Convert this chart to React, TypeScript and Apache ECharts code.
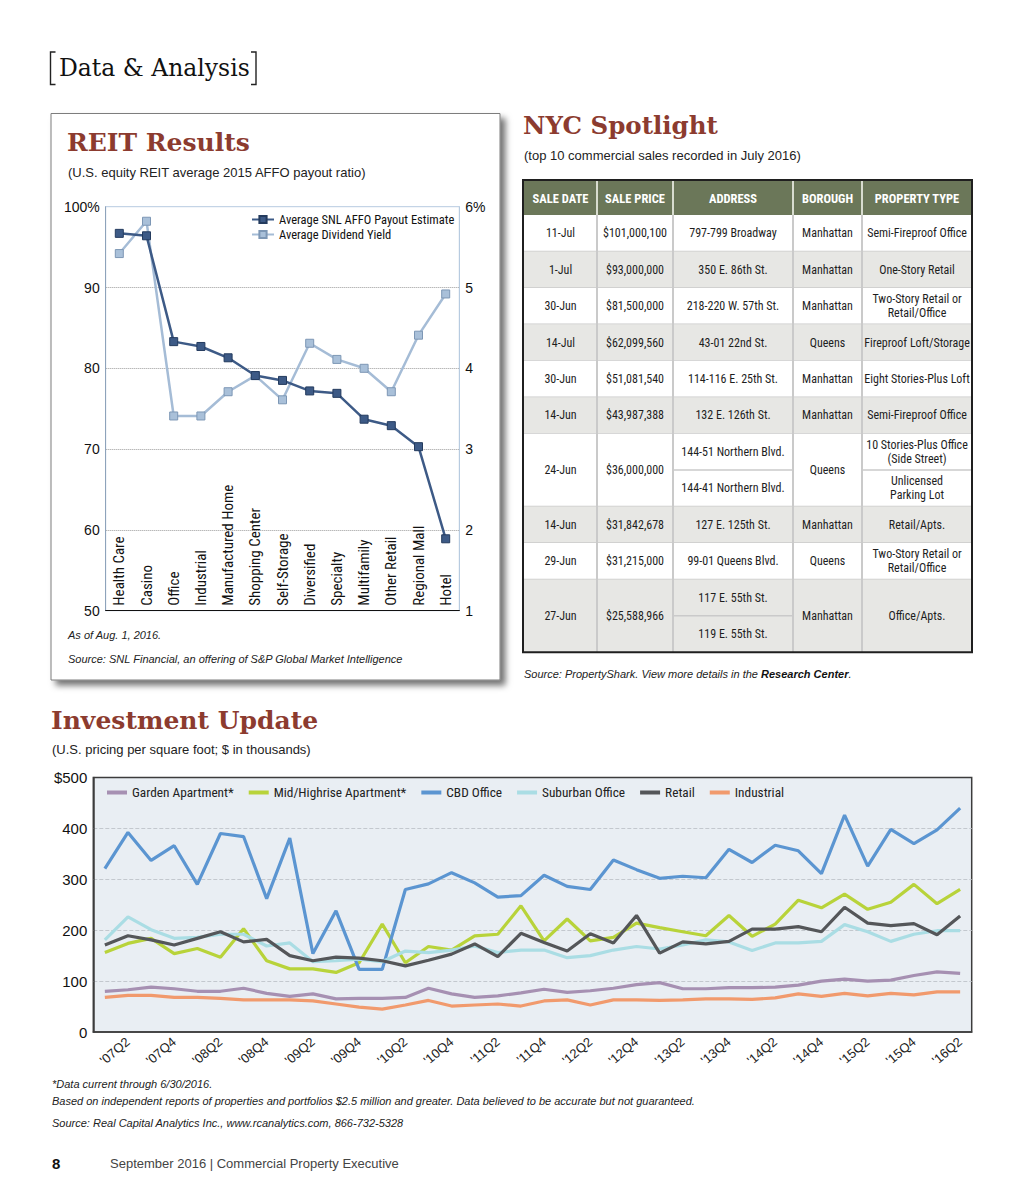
import React, { useEffect, useRef } from "react";
import * as echarts from "echarts";

const NARROW = "'Liberation Sans Narrow', 'Roboto Condensed', 'Liberation Sans', Arial, sans-serif";
const SANS = "'Liberation Sans', Arial, Helvetica, sans-serif";
const SERIF = "'DejaVu Serif', 'Liberation Serif', serif";
const TITLE_RED = "#8c3b2f";

// ---------- REIT Results ----------
const reitCategories = [
  "Health Care", "Casino", "Office", "Industrial", "Manufactured Home", "Shopping Center",
  "Self-Storage", "Diversified", "Specialty", "Multifamily", "Other Retail", "Regional Mall", "Hotel",
];
const affoPayout = [96.7, 96.4, 83.3, 82.7, 81.3, 79.1, 78.5, 77.2, 76.9, 73.7, 72.9, 70.3, 58.9];
const dividendYield = [5.42, 5.82, 3.41, 3.41, 3.71, 3.91, 3.61, 4.31, 4.11, 4.0, 3.71, 4.41, 4.92];
const reitSeriesNames = ["Average SNL AFFO Payout Estimate", "Average Dividend Yield"];

// ---------- Investment Update ----------
const quarters = [
  "'07Q1", "'07Q2", "'07Q3", "'07Q4", "'08Q1", "'08Q2", "'08Q3", "'08Q4",
  "'09Q1", "'09Q2", "'09Q3", "'09Q4", "'10Q1", "'10Q2", "'10Q3", "'10Q4",
  "'11Q1", "'11Q2", "'11Q3", "'11Q4", "'12Q1", "'12Q2", "'12Q3", "'12Q4",
  "'13Q1", "'13Q2", "'13Q3", "'13Q4", "'14Q1", "'14Q2", "'14Q3", "'14Q4",
  "'15Q1", "'15Q2", "'15Q3", "'15Q4", "'16Q1", "'16Q2",
];
const gardenApartment = [80, 83, 88, 85, 80, 80, 86, 76, 70, 75, 65, 66, 66, 68, 86, 75, 68, 71, 77,
  84, 78, 81, 86, 93, 97, 85, 85, 87, 87, 88, 92, 100, 104, 100, 102, 111, 118, 115];
const midHighriseApartment = [156, 174, 184, 154, 164, 147, 203, 140, 124, 124, 117, 136, 212, 136, 168, 161, 189, 192, 248,
  179, 222, 179, 186, 214, 205, 197, 189, 229, 188, 212, 259, 244, 271, 241, 255, 290, 252, 280];
const cbdOffice = [321, 392, 337, 366, 290, 390, 384, 262, 381, 154, 238, 123, 123, 280, 291, 313, 293, 265, 268,
  308, 286, 280, 338, 319, 302, 306, 303, 359, 333, 367, 356, 311, 426, 326, 398, 370, 397, 440];
const suburbanOffice = [181, 226, 201, 184, 186, 192, 192, 169, 175, 138, 140, 143, 138, 159, 156, 161, 169, 156, 161,
  161, 146, 150, 161, 168, 163, 171, 181, 177, 160, 175, 175, 178, 211, 197, 178, 192, 199, 199];
const retail = [171, 189, 181, 171, 184, 197, 177, 182, 150, 140, 147, 145, 140, 130, 141, 153, 173, 148, 194,
  176, 159, 193, 175, 229, 155, 177, 173, 178, 202, 202, 207, 197, 245, 214, 209, 213, 191, 228];
const industrial = [68, 72, 72, 68, 68, 66, 63, 63, 63, 61, 55, 49, 45, 53, 62, 51, 53, 55, 51,
  61, 63, 53, 63, 63, 62, 63, 65, 65, 64, 67, 75, 70, 76, 71, 76, 73, 79, 79];
const investmentNames = ["Garden Apartment*", "Mid/Highrise Apartment*", "CBD Office", "Suburban Office", "Retail", "Industrial"];
const investmentColors = ["#a690b2", "#b8d33a", "#5b95d1", "#aadde4", "#545659", "#f19a6d"];

// ---------- NYC Spotlight table ----------
const tableHeaders = ["SALE DATE", "SALE PRICE", "ADDRESS", "BOROUGH", "PROPERTY TYPE"];
const saleDates = ["11-Jul", "1-Jul", "30-Jun", "14-Jul", "30-Jun", "14-Jun", "24-Jun", "14-Jun", "29-Jun", "27-Jun"];
const salePrices = ["$101,000,100", "$93,000,000", "$81,500,000", "$62,099,560", "$51,081,540", "$43,987,388",
  "$36,000,000", "$31,842,678", "$31,215,000", "$25,588,966"];
const addresses = [
  ["797-799 Broadway"], ["350 E. 86th St."], ["218-220 W. 57th St."], ["43-01 22nd St."],
  ["114-116 E. 25th St."], ["132 E. 126th St."], ["144-51 Northern Blvd.", "144-41 Northern Blvd."],
  ["127 E. 125th St."], ["99-01 Queens Blvd."], ["117 E. 55th St.", "119 E. 55th St."],
];
const boroughs = ["Manhattan", "Manhattan", "Manhattan", "Queens", "Manhattan", "Manhattan", "Queens", "Manhattan", "Queens", "Manhattan"];
const propertyTypes = [
  ["Semi-Fireproof Office"], ["One-Story Retail"], ["Two-Story Retail or\nRetail/Office"], ["Fireproof Loft/Storage"],
  ["Eight Stories-Plus Loft"], ["Semi-Fireproof Office"], ["10 Stories-Plus Office\n(Side Street)", "Unlicensed\nParking Lot"],
  ["Retail/Apts."], ["Two-Story Retail or\nRetail/Office"], ["Office/Apts."],
];

function txt(text: string, x: number, y: number, o: any = {}) {
  return {
    type: "text",
    x,
    y,
    silent: true,
    z: o.z ?? 10,
    style: {
      text,
      fill: o.fill ?? "#222",
      fontSize: o.fontSize ?? 13,
      fontFamily: o.fontFamily ?? SANS,
      fontWeight: o.fontWeight ?? "normal",
      fontStyle: o.fontStyle ?? "normal",
      align: o.align ?? "left",
      verticalAlign: "middle",
      lineHeight: o.lineHeight,
      rich: o.rich,
    },
  };
}

function buildTable() {
  const colX = [524, 597, 673, 793, 862, 972];
  const top = 180;
  const headH = 35;
  const unit = 36.44;
  const els: any[] = [];
  const cellFont = { fontSize: 12, fontFamily: NARROW, fill: "#1e1e1e", align: "center", lineHeight: 14 };
  els.push({ type: "rect", silent: true, shape: { x: colX[0], y: top, width: colX[5] - colX[0], height: headH }, style: { fill: "#6b7759" } });
  tableHeaders.forEach((h, i) => {
    els.push(txt(h, (colX[i] + colX[i + 1]) / 2, top + headH / 2 + 1, { fontSize: 12.5, fontFamily: NARROW, fontWeight: "bold", fill: "#ffffff", align: "center" }));
  });
  for (let i = 1; i < 5; i++) {
    els.push({ type: "line", silent: true, shape: { x1: colX[i], y1: top, x2: colX[i], y2: top + headH }, style: { stroke: "#d8dccf", lineWidth: 2 } });
  }
  let y = top + headH;
  saleDates.forEach((d, r) => {
    const n = Math.max(addresses[r].length, propertyTypes[r].length);
    const h = n * unit;
    const fill = r % 2 === 0 ? "#ffffff" : "#e7e7e4";
    els.push({ type: "rect", silent: true, shape: { x: colX[0], y, width: colX[5] - colX[0], height: h }, style: { fill } });
    els.push(txt(d, (colX[0] + colX[1]) / 2, y + h / 2, cellFont));
    els.push(txt(salePrices[r], (colX[1] + colX[2]) / 2, y + h / 2, cellFont));
    els.push(txt(boroughs[r], (colX[3] + colX[4]) / 2, y + h / 2, cellFont));
    const subA = h / addresses[r].length;
    addresses[r].forEach((a, k) => {
      els.push(txt(a, (colX[2] + colX[3]) / 2, y + subA * k + subA / 2, cellFont));
      if (k > 0) {
        els.push({ type: "line", silent: true, shape: { x1: colX[2], y1: y + subA * k, x2: colX[3], y2: y + subA * k }, style: { stroke: "#cacaca", lineWidth: 1.5 } });
      }
    });
    const subT = h / propertyTypes[r].length;
    propertyTypes[r].forEach((t, k) => {
      els.push(txt(t, (colX[4] + colX[5]) / 2, y + subT * k + subT / 2, cellFont));
      if (k > 0) {
        els.push({ type: "line", silent: true, shape: { x1: colX[4], y1: y + subT * k, x2: colX[5], y2: y + subT * k }, style: { stroke: "#cacaca", lineWidth: 1.5 } });
      }
    });
    y += h;
    if (r < saleDates.length - 1) {
      els.push({ type: "line", silent: true, shape: { x1: colX[0], y1: y, x2: colX[5], y2: y }, style: { stroke: "#cacaca", lineWidth: 1.5 } });
    }
  });
  for (let i = 1; i < 5; i++) {
    els.push({ type: "line", silent: true, shape: { x1: colX[i], y1: top + headH, x2: colX[i], y2: y }, style: { stroke: "#cacaca", lineWidth: 2 } });
  }
  els.push({ type: "rect", silent: true, shape: { x: colX[0] - 1, y: top, width: colX[5] - colX[0] + 1, height: y - top }, style: { fill: "none", stroke: "#1f1f1f", lineWidth: 2 } });
  return els;
}

export default function App() {
  const ref = useRef<HTMLDivElement>(null);
  useEffect(() => {
    if (!ref.current) return;
    const chart = echarts.init(ref.current, undefined, { renderer: "svg" });

    const graphics: any[] = [
      // REIT box
      {
        type: "rect", silent: true, z: -10,
        shape: { x: 51, y: 113.5, width: 449, height: 566.5 },
        style: { fill: "#ffffff", stroke: "#7d7d7d", lineWidth: 1, shadowBlur: 6, shadowColor: "rgba(0,0,0,0.55)", shadowOffsetX: 5, shadowOffsetY: 5 },
      },
      // header brackets
      { type: "polyline", silent: true, shape: { points: [[55.5, 52], [50.5, 52], [50.5, 84.5], [55.5, 84.5]] }, style: { stroke: "#222", lineWidth: 1.4, fill: "none" } },
      { type: "polyline", silent: true, shape: { points: [[251, 52], [256, 52], [256, 84.5], [251, 84.5]] }, style: { stroke: "#222", lineWidth: 1.4, fill: "none" } },
      txt("Data & Analysis", 59, 68, { fontSize: 23.5, fontFamily: SERIF, fill: "#111" }),
      // titles
      txt("REIT Results", 67, 142, { fontSize: 25, fontFamily: SERIF, fontWeight: "bold", fill: TITLE_RED }),
      txt("(U.S. equity REIT average 2015 AFFO payout ratio)", 68, 172, { fontSize: 13 }),
      txt("NYC Spotlight", 523, 125, { fontSize: 24.5, fontFamily: SERIF, fontWeight: "bold", fill: TITLE_RED }),
      txt("(top 10 commercial sales recorded in July 2016)", 524, 155, { fontSize: 13 }),
      txt("Investment Update", 51, 720, { fontSize: 25, fontFamily: SERIF, fontWeight: "bold", fill: TITLE_RED }),
      txt("(U.S. pricing per square foot; $ in thousands)", 52, 749, { fontSize: 13 }),
      // REIT notes
      txt("As of Aug. 1, 2016.", 68, 635, { fontSize: 11, fontStyle: "italic" }),
      txt("Source: SNL Financial, an offering of S&P Global Market Intelligence", 68, 659, { fontSize: 11, fontStyle: "italic" }),
      // table source
      txt("{a|Source: PropertyShark. View more details in the }{b|Research Center}{a|.}", 524, 674, {
        fontSize: 11, fontStyle: "italic",
        rich: {
          a: { fontSize: 11, fontStyle: "italic", fontFamily: SANS, fill: "#222" },
          b: { fontSize: 11, fontStyle: "italic", fontWeight: "bold", fontFamily: SANS, fill: "#111" },
        },
      }),
      // investment notes
      txt("*Data current through 6/30/2016.", 52, 1084, { fontSize: 11, fontStyle: "italic" }),
      txt("Based on independent reports of properties and portfolios $2.5 million and greater. Data believed to be accurate but not guaranteed.", 52, 1101, { fontSize: 11, fontStyle: "italic" }),
      txt("Source: Real Capital Analytics Inc., www.rcanalytics.com, 866-732-5328", 52, 1123, { fontSize: 11, fontStyle: "italic" }),
      // page footer
      txt("8", 52, 1163, { fontSize: 15, fontWeight: "bold", fill: "#111" }),
      txt("September 2016 | Commercial Property Executive", 110, 1163, { fontSize: 13, fill: "#444" }),
      ...buildTable(),
    ];

    const invSeriesData = [gardenApartment, midHighriseApartment, cbdOffice, suburbanOffice, retail, industrial];

    const option: any = {
      animation: false,
      backgroundColor: "#ffffff",
      textStyle: { fontFamily: SANS },
      graphic: { elements: graphics },
      grid: [
        { left: 105.7, top: 206.7, width: 353.6, height: 404, show: true, borderColor: "#b7cbe0", borderWidth: 1, backgroundColor: "transparent" },
        { left: 93.3, top: 777.5, width: 878.4, height: 254.5, show: true, backgroundColor: "#e9eef3", borderColor: "#3c3c3c", borderWidth: 1.5 },
      ],
      legend: [
        {
          data: reitSeriesNames, left: 251, top: 213, padding: 0, orient: "vertical", itemGap: 2, itemWidth: 22, itemHeight: 9,
          selectedMode: false, textStyle: { fontSize: 12.5, fontFamily: NARROW, color: "#111" },
        },
        {
          data: investmentNames, left: 107, top: 786, padding: 0, itemGap: 15, itemWidth: 20, itemHeight: 4, icon: "rect",
          selectedMode: false, textStyle: { fontSize: 13.3, fontFamily: NARROW, color: "#222" },
        },
      ],
      xAxis: [
        {
          gridIndex: 0, type: "category", data: reitCategories,
          axisLine: { lineStyle: { color: "#111", width: 1.2 } },
          axisTick: { inside: true, length: 9, lineStyle: { color: "#111" } },
          axisLabel: { inside: true, rotate: 90, margin: 5, fontSize: 15, fontFamily: NARROW, color: "#111" },
        },
        {
          gridIndex: 1, type: "category", data: quarters,
          axisLine: { lineStyle: { color: "#3c3c3c", width: 1.5 } },
          axisTick: { inside: true, length: 6, interval: 0, lineStyle: { color: "#3c3c3c", width: 1.2 } },
          axisLabel: { interval: (i: number) => i % 2 === 1, rotate: 40, margin: 8, fontSize: 13, fontFamily: SANS, color: "#222" },
        },
      ],
      yAxis: [
        {
          gridIndex: 0, type: "value", min: 50, max: 100, interval: 10,
          axisLine: { show: true, lineStyle: { color: "#8ea3bb" } },
          axisTick: { show: false },
          axisLabel: { formatter: (v: number) => (v === 100 ? "100%" : String(v)), fontSize: 14, color: "#111", margin: 6 },
          splitLine: { showMinLine: false, showMaxLine: false, lineStyle: { type: "dotted", color: "#9a9a9a" } },
        },
        {
          gridIndex: 0, type: "value", position: "right", min: 1, max: 6, interval: 1,
          axisLine: { show: true, lineStyle: { color: "#b7cbe0" } },
          axisTick: { show: false },
          axisLabel: { formatter: (v: number) => (v === 6 ? "6%" : String(v)), fontSize: 14, color: "#111", margin: 6 },
          splitLine: { show: false },
        },
        {
          gridIndex: 1, type: "value", min: 0, max: 500, interval: 100,
          axisLine: { show: true, lineStyle: { color: "#3c3c3c", width: 1.5 } },
          axisTick: { show: false },
          axisLabel: { formatter: (v: number) => (v === 500 ? "$500" : String(v)), fontSize: 15, color: "#111", margin: 6 },
          splitLine: { showMinLine: false, showMaxLine: false, lineStyle: { type: "dashed", color: "#c3c8ce" } },
        },
      ],
      series: [
        {
          name: reitSeriesNames[1], type: "line", xAxisIndex: 0, yAxisIndex: 1, data: dividendYield,
          symbol: "rect", symbolSize: 8,
          lineStyle: { color: "#a5bcd6", width: 2.5 },
          itemStyle: { color: "#a9c0d9", borderColor: "#7d97b5", borderWidth: 1 },
        },
        {
          name: reitSeriesNames[0], type: "line", xAxisIndex: 0, yAxisIndex: 0, data: affoPayout,
          symbol: "rect", symbolSize: 8,
          lineStyle: { color: "#3d5a86", width: 2.5 },
          itemStyle: { color: "#3d5a86", borderColor: "#243b5e", borderWidth: 1 },
        },
        ...investmentNames.map((name, i) => ({
          name, type: "line", xAxisIndex: 1, yAxisIndex: 2, data: invSeriesData[i],
          symbol: "none", showSymbol: false,
          color: investmentColors[i],
          lineStyle: { color: investmentColors[i], width: 3.2 },
          itemStyle: { color: investmentColors[i] },
        })),
      ],
    };
    chart.setOption(option);
    return () => chart.dispose();
  }, []);
  return (
    <div
      ref={ref}
      style={{ position: "absolute", left: 0, top: 0, width: 1024, height: 1195, background: "#fff" }}
    />
  );
}
